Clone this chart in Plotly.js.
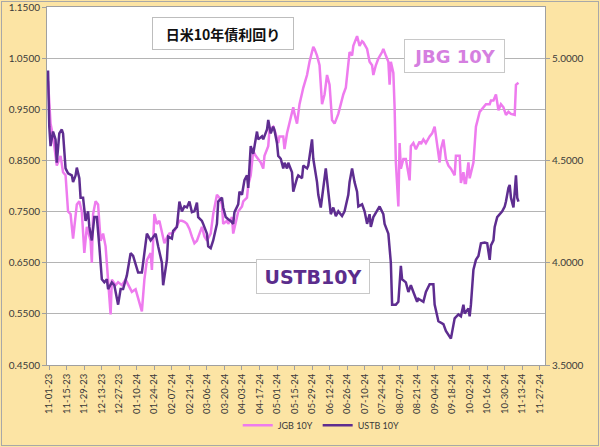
<!DOCTYPE html>
<html>
<head>
<meta charset="utf-8">
<script src="https://cdn.plot.ly/plotly-3.0.1.min.js"></script>
<style>
html,body{margin:0;padding:0;background:#fff;}
#wrap{position:relative;width:600px;height:447px;}
#chart{width:600px;height:447px;}
#frame{position:absolute;left:1px;top:1px;width:596px;height:443px;border:1px solid #a8a8a8;pointer-events:none;}
</style>
</head>
<body>
<div id="wrap"><div id="chart"></div><div id="frame"></div></div>
<script>
// ---- data ----
const jgbDates = ['2023-10-31','2023-11-02','2023-11-04','2023-11-07','2023-11-10','2023-11-12','2023-11-14','2023-11-16','2023-11-18','2023-11-20','2023-11-23','2023-11-25','2023-11-27','2023-11-29','2023-12-01','2023-12-04','2023-12-05','2023-12-06','2023-12-08','2023-12-10','2023-12-12','2023-12-14','2023-12-16','2023-12-18','2023-12-20','2023-12-21','2023-12-24','2023-12-26','2023-12-29','2024-01-01','2024-01-03','2024-01-06','2024-01-09','2024-01-11','2024-01-14','2024-01-16','2024-01-18','2024-01-21','2024-01-22','2024-01-24','2024-01-26','2024-01-28','2024-01-30','2024-02-01','2024-02-03','2024-02-05','2024-02-07','2024-02-09','2024-02-11','2024-02-13','2024-02-15','2024-02-17','2024-02-19','2024-02-21','2024-02-23','2024-02-25','2024-02-27','2024-02-29','2024-03-02','2024-03-04','2024-03-06','2024-03-09','2024-03-11','2024-03-14','2024-03-16','2024-03-18','2024-03-19','2024-03-22','2024-03-23','2024-03-26','2024-03-27','2024-03-30','2024-03-31','2024-04-03','2024-04-04','2024-04-07','2024-04-08','2024-04-10','2024-04-12','2024-04-14','2024-04-16','2024-04-18','2024-04-20','2024-04-21','2024-04-24','2024-04-25','2024-04-28','2024-04-29','2024-05-02','2024-05-03','2024-05-06','2024-05-07','2024-05-09','2024-05-11','2024-05-14','2024-05-15','2024-05-17','2024-05-19','2024-05-22','2024-05-25','2024-05-27','2024-05-30','2024-05-31','2024-06-02','2024-06-04','2024-06-06','2024-06-08','2024-06-10','2024-06-12','2024-06-14','2024-06-16','2024-06-19','2024-06-23','2024-06-25','2024-06-28','2024-06-30','2024-07-01','2024-07-04','2024-07-06','2024-07-08','2024-07-09','2024-07-12','2024-07-14','2024-07-16','2024-07-17','2024-07-19','2024-07-21','2024-07-24','2024-07-25','2024-07-27','2024-07-29','2024-07-30','2024-07-31','2024-08-02','2024-08-03','2024-08-04','2024-08-06','2024-08-07','2024-08-08','2024-08-10','2024-08-12','2024-08-15','2024-08-16','2024-08-18','2024-08-20','2024-08-23','2024-08-24','2024-08-26','2024-08-28','2024-08-31','2024-09-02','2024-09-04','2024-09-06','2024-09-08','2024-09-09','2024-09-11','2024-09-13','2024-09-15','2024-09-17','2024-09-20','2024-09-21','2024-09-24','2024-09-25','2024-09-27','2024-09-28','2024-09-29','2024-10-01','2024-10-02','2024-10-05','2024-10-06','2024-10-07','2024-10-10','2024-10-13','2024-10-15','2024-10-18','2024-10-19','2024-10-21','2024-10-23','2024-10-25','2024-10-27','2024-10-29','2024-10-31','2024-11-02','2024-11-04','2024-11-07','2024-11-08','2024-11-10'];
const jgbValues = [1.005,0.922,0.897,0.840,0.859,0.827,0.821,0.750,0.745,0.697,0.764,0.770,0.750,0.669,0.720,0.693,0.650,0.745,0.770,0.764,0.693,0.707,0.682,0.617,0.549,0.617,0.606,0.612,0.606,0.617,0.606,0.593,0.598,0.579,0.555,0.617,0.655,0.669,0.636,0.745,0.726,0.732,0.707,0.688,0.699,0.707,0.707,0.712,0.722,0.732,0.732,0.730,0.726,0.716,0.701,0.688,0.693,0.707,0.720,0.701,0.693,0.707,0.745,0.783,0.777,0.764,0.726,0.732,0.726,0.739,0.707,0.739,0.750,0.760,0.770,0.777,0.802,0.821,0.868,0.859,0.853,0.846,0.834,0.859,0.878,0.910,0.916,0.910,0.884,0.897,0.897,0.872,0.903,0.922,0.954,0.941,0.922,0.960,0.992,1.017,1.043,1.072,1.068,1.055,1.036,0.960,0.979,1.017,0.998,0.929,0.922,0.941,0.979,0.992,1.062,1.055,1.074,1.093,1.074,1.083,1.081,1.068,1.043,1.036,1.017,1.036,1.049,1.062,1.068,1.055,1.043,0.998,1.043,1.021,0.954,0.846,0.760,0.884,0.834,0.853,0.853,0.811,0.878,0.884,0.872,0.887,0.882,0.891,0.884,0.897,0.903,0.916,0.878,0.846,0.872,0.891,0.853,0.840,0.834,0.821,0.859,0.859,0.806,0.827,0.806,0.806,0.846,0.815,0.846,0.891,0.916,0.945,0.954,0.960,0.960,0.967,0.967,0.979,0.948,0.960,0.954,0.939,0.945,0.941,0.939,0.998,1.002];

const ustDates = ['2023-10-31','2023-11-01','2023-11-02','2023-11-04','2023-11-06','2023-11-07','2023-11-09','2023-11-11','2023-11-12','2023-11-13','2023-11-14','2023-11-16','2023-11-19','2023-11-20','2023-11-22','2023-11-23','2023-11-25','2023-11-26','2023-11-28','2023-11-30','2023-12-02','2023-12-03','2023-12-05','2023-12-07','2023-12-09','2023-12-11','2023-12-13','2023-12-15','2023-12-17','2023-12-18','2023-12-21','2023-12-23','2023-12-26','2023-12-28','2023-12-30','2024-01-02','2024-01-05','2024-01-07','2024-01-11','2024-01-14','2024-01-16','2024-01-18','2024-01-21','2024-01-22','2024-01-25','2024-01-27','2024-01-30','2024-01-31','2024-02-03','2024-02-04','2024-02-07','2024-02-08','2024-02-11','2024-02-13','2024-02-15','2024-02-17','2024-02-19','2024-02-21','2024-02-23','2024-02-25','2024-02-27','2024-02-28','2024-03-02','2024-03-03','2024-03-06','2024-03-07','2024-03-09','2024-03-11','2024-03-14','2024-03-15','2024-03-18','2024-03-19','2024-03-21','2024-03-23','2024-03-25','2024-03-27','2024-03-28','2024-03-31','2024-04-01','2024-04-03','2024-04-05','2024-04-07','2024-04-08','2024-04-10','2024-04-12','2024-04-15','2024-04-16','2024-04-19','2024-04-20','2024-04-23','2024-04-24','2024-04-26','2024-04-28','2024-04-29','2024-05-01','2024-05-02','2024-05-04','2024-05-06','2024-05-07','2024-05-09','2024-05-10','2024-05-13','2024-05-14','2024-05-17','2024-05-18','2024-05-21','2024-05-22','2024-05-25','2024-05-26','2024-05-29','2024-05-30','2024-06-02','2024-06-03','2024-06-05','2024-06-07','2024-06-09','2024-06-11','2024-06-13','2024-06-15','2024-06-17','2024-06-19','2024-06-22','2024-06-24','2024-06-27','2024-06-28','2024-06-30','2024-07-02','2024-07-04','2024-07-05','2024-07-08','2024-07-10','2024-07-12','2024-07-14','2024-07-15','2024-07-17','2024-07-20','2024-07-22','2024-07-25','2024-07-26','2024-07-29','2024-07-31','2024-08-01','2024-08-04','2024-08-06','2024-08-08','2024-08-09','2024-08-12','2024-08-14','2024-08-16','2024-08-18','2024-08-21','2024-08-22','2024-08-26','2024-08-28','2024-08-31','2024-09-03','2024-09-04','2024-09-07','2024-09-11','2024-09-13','2024-09-16','2024-09-17','2024-09-20','2024-09-23','2024-09-25','2024-09-27','2024-09-28','2024-10-01','2024-10-02','2024-10-03','2024-10-05','2024-10-07','2024-10-09','2024-10-11','2024-10-14','2024-10-16','2024-10-18','2024-10-19','2024-10-21','2024-10-22','2024-10-24','2024-10-26','2024-10-28','2024-10-30','2024-10-31','2024-11-02','2024-11-03','2024-11-04','2024-11-06','2024-11-07','2024-11-08','2024-11-09','2024-11-10'];
const ustValues = [4.940,4.665,4.570,4.641,4.603,4.489,4.632,4.651,4.632,4.522,4.461,4.437,4.427,4.394,4.427,4.465,4.413,4.318,4.318,4.204,4.251,4.175,4.109,4.223,4.223,4.080,3.919,3.904,3.919,3.871,3.904,3.890,3.795,3.871,3.871,3.938,4.047,4.033,3.952,3.952,4.047,4.142,4.109,4.118,4.142,4.080,4.000,3.890,4.014,4.128,4.118,4.156,4.175,4.299,4.251,4.275,4.270,4.299,4.247,4.251,4.294,4.223,4.204,4.190,4.142,4.080,4.071,4.109,4.190,4.299,4.318,4.270,4.223,4.213,4.204,4.190,4.247,4.285,4.347,4.332,4.404,4.427,4.366,4.570,4.532,4.641,4.603,4.618,4.603,4.651,4.698,4.632,4.665,4.646,4.584,4.522,4.508,4.461,4.489,4.461,4.489,4.442,4.347,4.413,4.427,4.413,4.475,4.461,4.475,4.603,4.508,4.394,4.332,4.270,4.380,4.461,4.347,4.237,4.270,4.228,4.251,4.228,4.251,4.332,4.394,4.461,4.394,4.347,4.275,4.285,4.251,4.190,4.237,4.175,4.223,4.251,4.275,4.237,4.190,4.142,4.000,3.795,3.795,3.809,3.985,3.919,3.904,3.857,3.890,3.857,3.809,3.824,3.809,3.857,3.895,3.895,3.795,3.714,3.700,3.667,3.643,3.629,3.728,3.747,3.738,3.795,3.752,3.776,3.738,3.795,3.966,4.014,4.033,4.095,4.099,4.095,4.014,4.085,4.109,4.175,4.223,4.237,4.251,4.275,4.299,4.366,4.380,4.318,4.270,4.347,4.427,4.318,4.299];

const tickDates = ['2023-11-01','2023-11-15','2023-11-29','2023-12-13','2023-12-27','2024-01-10','2024-01-24','2024-02-07','2024-02-21','2024-03-06','2024-03-20','2024-04-03','2024-04-17','2024-05-01','2024-05-15','2024-05-29','2024-06-12','2024-06-26','2024-07-10','2024-07-24','2024-08-07','2024-08-21','2024-09-04','2024-09-18','2024-10-02','2024-10-16','2024-10-30','2024-11-13','2024-11-27'];
const tickLabels = ['11-01-23','11-15-23','11-29-23','12-13-23','12-27-23','01-10-24','01-24-24','02-07-24','02-21-24','03-06-24','03-20-24','04-03-24','04-17-24','05-01-24','05-15-24','05-29-24','06-12-24','06-26-24','07-10-24','07-24-24','08-07-24','08-21-24','09-04-24','09-18-24','10-02-24','10-16-24','10-30-24','11-13-24','11-27-24'];
const leftTicks = [0.45,0.55,0.65,0.75,0.85,0.95,1.05,1.15];
const rightTicks = [3.5,4.0,4.5,5.0];
const seriesNames = ['JGB 10Y','USTB 10Y'];
const chartTitle = '日米10年債利回り';
const jgbLabel = 'JBG 10Y';
const ustLabel = 'USTB10Y';

// ---- styles ----
const JGB_COLOR = '#EE7BEE';
const UST_COLOR = '#5E2D90';
const TICK_FONT = {family: 'Lato, "Liberation Sans", sans-serif', size: 10, color: '#3a3a3a'};

const traces = [
  {x: jgbDates, y: jgbValues, name: seriesNames[0], type: 'scatter', mode: 'lines',
   line: {color: JGB_COLOR, width: 2.5}, yaxis: 'y'},
  {x: ustDates, y: ustValues, name: seriesNames[1], type: 'scatter', mode: 'lines',
   line: {color: UST_COLOR, width: 2.5}, yaxis: 'y2'}
];

const layout = {
  width: 600, height: 447,
  margin: {l: 47, r: 55, t: 7, b: 72, pad: 0},
  paper_bgcolor: '#FCE4A4',
  plot_bgcolor: '#FFFFFF',
  showlegend: true,
  legend: {orientation: 'h', x: 0.383, xanchor: 'left', y: -0.168, yanchor: 'middle',
    bgcolor: 'rgba(0,0,0,0)', font: {family: 'Lato, sans-serif', size: 9, color: '#3a3a3a'},
    itemwidth: 30, tracegroupgap: 0},
  xaxis: {type: 'date', range: ['2023-10-30 04:00', '2024-12-01 05:00'],
    tickmode: 'array', tickvals: tickDates, ticktext: tickLabels, tickangle: -90,
    tickfont: {family: 'Lato, "Liberation Sans", sans-serif', size: 9.5, color: '#3a3a3a'},
    ticks: 'outside', ticklen: 4, tickcolor: '#a0a0a0',
    showgrid: false, showline: true, linecolor: '#a0a0a0', linewidth: 1, mirror: true,
    zeroline: false, fixedrange: true},
  yaxis: {range: [0.45, 1.15], tickmode: 'array', tickvals: leftTicks, tickformat: '.4f',
    tickfont: TICK_FONT, ticks: 'outside', ticklen: 4, tickcolor: '#a0a0a0',
    showgrid: true, gridcolor: '#b4b4b4', gridwidth: 1,
    showline: true, linecolor: '#a0a0a0', linewidth: 1, mirror: true, zeroline: false},
  yaxis2: {range: [3.5, 5.25], overlaying: 'y', side: 'right', tickmode: 'array',
    tickvals: rightTicks, tickformat: '.4f', tickfont: TICK_FONT,
    ticks: 'outside', ticklen: 4, tickcolor: '#a0a0a0',
    showgrid: false, zeroline: false, showline: false},
  annotations: [
    {text: chartTitle, xref: 'paper', yref: 'paper', x: 0.3534, y: 0.9253,
     xanchor: 'center', yanchor: 'middle', showarrow: false,
     font: {family: '"Noto Sans CJK JP", sans-serif', size: 14, color: '#111111', weight: 'bold'},
     bgcolor: '#FFFFFF', bordercolor: '#bdbdbd', borderwidth: 1, width: 138, height: 29, borderpad: 1},
    {text: jgbLabel, xref: 'paper', yref: 'paper', x: 0.8183, y: 0.8641,
     xanchor: 'center', yanchor: 'middle', showarrow: false,
     font: {family: '"DejaVu Sans", sans-serif', size: 18, color: '#D57FE0', weight: 'bold'},
     bgcolor: '#FFFFFF', bordercolor: '#c8c8c8', borderwidth: 1, width: 97, height: 30, borderpad: 1},
    {text: ustLabel, xref: 'paper', yref: 'paper', x: 0.5351, y: 0.2473,
     xanchor: 'center', yanchor: 'middle', showarrow: false,
     font: {family: '"DejaVu Sans", sans-serif', size: 19, color: '#5B2D8C', weight: 'bold'},
     bgcolor: '#FFFFFF', bordercolor: '#c8c8c8', borderwidth: 1, width: 110, height: 31, borderpad: 1}
  ]
};

Plotly.newPlot('chart', traces, layout, {displayModeBar: false, staticPlot: true});
</script>
</body>
</html>
